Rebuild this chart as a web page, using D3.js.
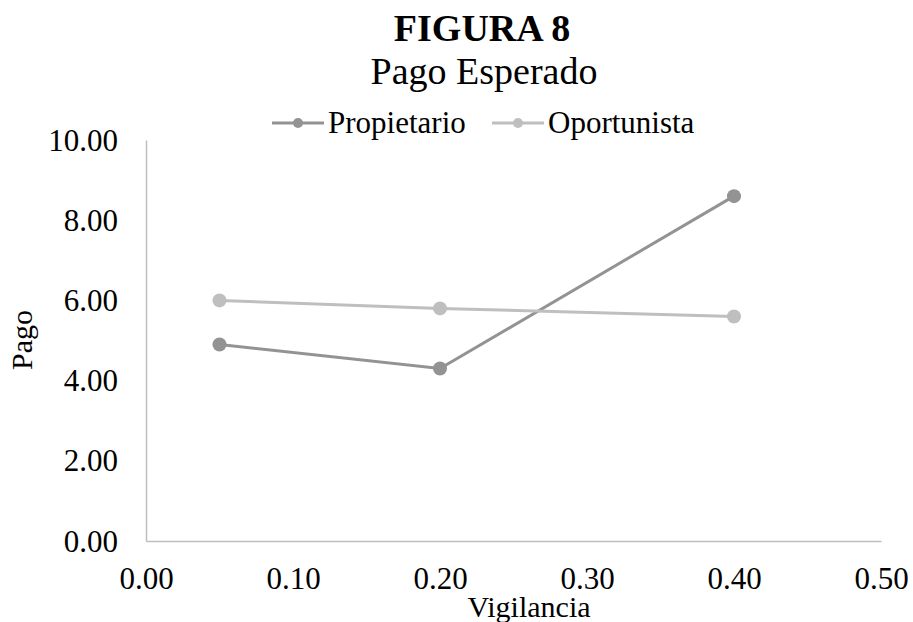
<!DOCTYPE html>
<html>
<head>
<meta charset="utf-8">
<script src="https://cdn.jsdelivr.net/npm/d3@7"></script>
<style>
	body { margin: 0; background: #fff; }
	svg text { font-family: "Liberation Serif", "Times New Roman", serif; fill: #000; }
</style>
</head>
<body>
<div id="root"></div>
<script>
const vigilancia	= [0.05, 0.20, 0.40];
const propietario	= [4.9, 4.3, 8.6];
const oportunista	= [6.0, 5.8, 5.6];
const x_ticks		= [0, 0.1, 0.2, 0.3, 0.4, 0.5];
const y_ticks		= [0, 2, 4, 6, 8, 10];
const series_names	= ['Propietario', 'Oportunista'];
const series_colors	= ['#939393', '#bfbfbf'];

const font			= '"Liberation Serif", "Times New Roman", serif';
const canvasWidth	= 913;
const canvasHeight	= 622;
const plot			= { left: 146, right: 881, top: 140, bottom: 541 };

const svg = d3.select('#root').append('svg')
	.attr('width', canvasWidth)
	.attr('height', canvasHeight)
	.attr('font-family', font);

const x = d3.scaleLinear().domain([0, 0.5]).range([plot.left, plot.right]);
const y = d3.scaleLinear().domain([0, 10]).range([plot.bottom, plot.top]);

// axes, no tick marks, only the domain line
const xAxis = svg.append('g')
	.attr('transform', 'translate(0,' + plot.bottom + ')')
	.call(d3.axisBottom(x).tickValues(x_ticks).tickSize(0).tickPadding(0).tickFormat(d3.format('.2f')));
const yAxis = svg.append('g')
	.attr('transform', 'translate(' + plot.left + ',0)')
	.call(d3.axisLeft(y).tickValues(y_ticks).tickSize(0).tickPadding(0).tickFormat(d3.format('.2f')));

[xAxis, yAxis].forEach((a) => {
	a.attr('font-family', font).attr('font-size', null);
	a.select('.domain').attr('stroke', '#bfbfbf').attr('stroke-width', 1.5);
	a.selectAll('text').style('font-size', '31px');
});
xAxis.selectAll('text').attr('dy', null).attr('y', 48);
yAxis.selectAll('text').attr('dy', null).attr('x', -28).attr('y', 10);

// series
const data = [propietario, oportunista];
const line = d3.line()
	.x((d, i) => x(vigilancia[i]))
	.y((d) => y(d));

data.forEach((vals, s) => {
	svg.append('path')
		.datum(vals)
		.attr('fill', 'none')
		.attr('stroke', series_colors[s])
		.attr('stroke-width', 3)
		.attr('d', line);
	svg.selectAll('.pt' + s)
		.data(vals).enter().append('circle')
		.attr('cx', (d, i) => x(vigilancia[i]))
		.attr('cy', (d) => y(d))
		.attr('r', 7)
		.attr('fill', series_colors[s]);
});

// titles
svg.append('text')
	.attr('x', 482).attr('y', 41)
	.attr('text-anchor', 'middle')
	.style('font-size', '38px').style('font-weight', 'bold')
	.text('FIGURA 8');
svg.append('text')
	.attr('x', 484).attr('y', 84)
	.attr('text-anchor', 'middle')
	.style('font-size', '38px')
	.text('Pago Esperado');

// legend
const lgnd_x	= [272, 492];
const legends	= svg.selectAll('.legend').data(series_names).enter().append('g')
	.attr('class', 'legend')
	.attr('transform', (o, i) => 'translate(' + lgnd_x[i] + ',123)');
legends.append('line')
	.attr('x1', 0).attr('x2', 52)
	.attr('stroke', (o, i) => series_colors[i])
	.attr('stroke-width', 3);
legends.append('circle')
	.attr('cx', 26).attr('r', 5)
	.attr('fill', (o, i) => series_colors[i]);
legends.append('text')
	.attr('x', 56).attr('y', 10)
	.style('font-size', '31px')
	.text((o) => o);

// axis titles
svg.append('text')
	.attr('transform', 'translate(32,340) rotate(-90)')
	.attr('text-anchor', 'middle')
	.style('font-size', '30px')
	.text('Pago');
svg.append('text')
	.attr('x', 529).attr('y', 617)
	.attr('text-anchor', 'middle')
	.style('font-size', '30px')
	.text('Vigilancia');
</script>
</body>
</html>
